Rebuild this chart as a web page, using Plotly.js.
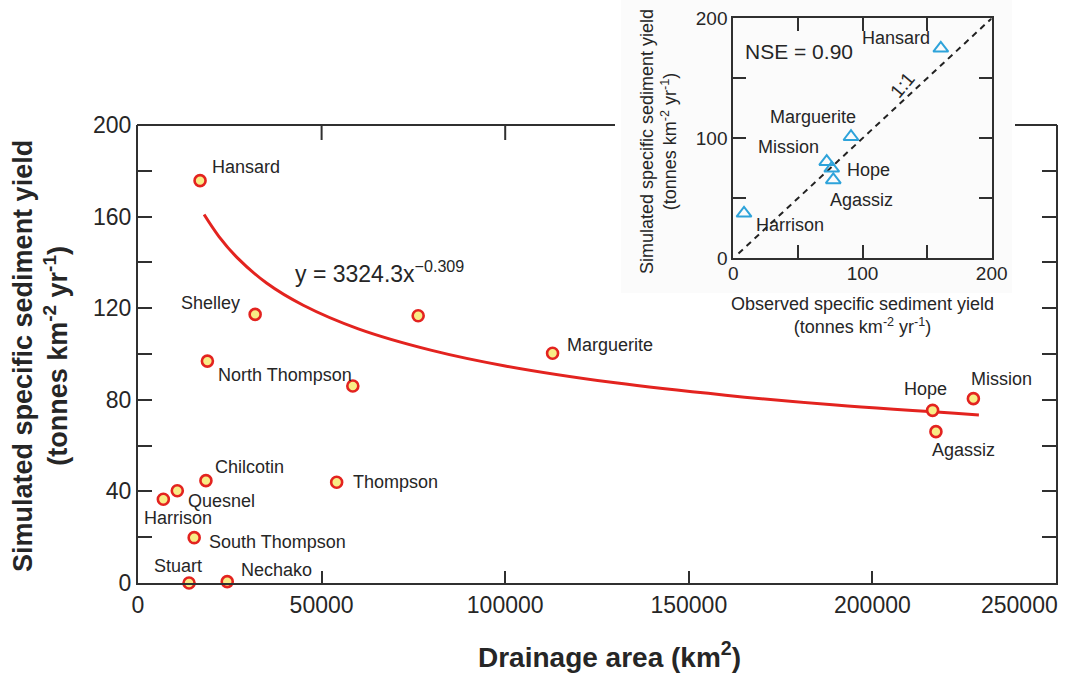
<!DOCTYPE html>
<html>
<head>
<meta charset="utf-8">
<script src="https://cdn.plot.ly/plotly-3.0.1.min.js"></script>
<style>
  html, body { margin: 0; padding: 0; background: #ffffff; }
  #chart { width: 1076px; height: 676px; }
</style>
</head>
<body>
<div id="chart"></div>
<script>
// ---------- Data ----------
// Main panel: drainage area (km2) vs simulated specific sediment yield (t km-2 yr-1)
const stations = ["Hansard", "Shelley", "", "North Thompson", "", "Marguerite", "Hope", "Mission",
                  "Agassiz", "Chilcotin", "Quesnel", "Harrison", "South Thompson", "Stuart", "Nechako", "Thompson"];
const drainageArea = [16900, 31900, 76300, 18900, 58500, 112900, 216400, 227500,
                      217300, 18500, 10700, 6900, 15300, 13900, 24300, 54100];
const simulatedYield = [175.7, 117.3, 116.7, 96.9, 86.0, 100.3, 75.4, 80.5,
                        66.1, 44.7, 40.3, 36.6, 19.8, 0.0, 0.6, 44.0];

// Power-law fit curve y = 3324.3 x^-0.309
const fitArea  = [18000, 22000, 27000, 35000, 45000, 60000, 80000, 100000, 130000, 160000, 190000, 229000];
const fitYield = [160.9, 151.4, 142.1, 131.0, 121.3, 111.0, 101.6, 94.8, 87.4, 82.0, 77.7, 73.4];
const fitEquation = "y = 3324.3x<sup>\u22120.309</sup>";

// Inset: observed vs simulated specific sediment yield
const insetStations = ["Hansard", "Marguerite", "Mission", "Hope", "Agassiz", "Harrison"];
const observedYield = [160.6, 91.1, 72.3, 76.2, 77.4, 8.3];
const insetSimulated = [175.0, 101.3, 80.5, 75.0, 65.3, 37.5];
const oneToOne = [4, 200];
const nseText = "NSE = 0.90";

// Tick settings
const mainXTicks = [0, 50000, 100000, 150000, 200000];
const mainXLastTick = 250000;
const mainYTicks = [0, 40, 80, 120, 160, 200];
const insetTicks = [0, 100, 200];

// ---------- Styling ----------
const REG = "Liberation Sans, Arial, Helvetica, sans-serif";
const AXIS = "#303030";
const TEXT = "#262626";
const W = 1076, H = 676;
const px = v => v / W;          // pixel -> paper x
const py = v => 1 - v / H;      // pixel -> paper y

// label placement (pixel offsets from the marker)
const mainLabelPos = {
  "Hansard":        {xanchor: "left",   dx: 10,  dy: 14},
  "Shelley":        {xanchor: "right",  dx: -13, dy: 11},
  "North Thompson": {xanchor: "left",   dx: 9,   dy: -14},
  "Marguerite":     {xanchor: "left",   dx: 12,  dy: 8},
  "Hope":           {xanchor: "center", dx: -7,  dy: 21},
  "Mission":        {xanchor: "center", dx: 28,  dy: 20},
  "Agassiz":        {xanchor: "center", dx: 28,  dy: -18},
  "Chilcotin":      {xanchor: "left",   dx: 7,   dy: 14},
  "Quesnel":        {xanchor: "left",   dx: 9,   dy: -10},
  "Harrison":       {xanchor: "center", dx: 15,  dy: -19},
  "South Thompson": {xanchor: "left",   dx: 13,  dy: -4},
  "Stuart":         {xanchor: "center", dx: -11, dy: 17},
  "Nechako":        {xanchor: "left",   dx: 12,  dy: 12},
  "Thompson":       {xanchor: "left",   dx: 14,  dy: 0}
};
const insetLabelPos = {
  "Hansard":    {xanchor: "right",  dx: -9,  dy: 10},
  "Marguerite": {xanchor: "center", dx: -38, dy: 20},
  "Mission":    {xanchor: "center", dx: -38, dy: 15},
  "Hope":       {xanchor: "left",   dx: 13,  dy: -2},
  "Agassiz":    {xanchor: "center", dx: 28,  dy: -20},
  "Harrison":   {xanchor: "left",   dx: 10,  dy: -12}
};

// ---------- Traces ----------
const traces = [
  {
    x: fitArea, y: fitYield, type: "scatter", mode: "lines",
    line: {color: "#e3231f", width: 3, shape: "spline"},
    hoverinfo: "skip", xaxis: "x", yaxis: "y"
  },
  {
    x: drainageArea, y: simulatedYield, text: stations, type: "scatter", mode: "markers",
    marker: {size: 11, color: "#f8ec86", line: {color: "#e3231f", width: 2.6}},
    cliponaxis: false, xaxis: "x", yaxis: "y"
  },
  {
    x: oneToOne, y: oneToOne, type: "scatter", mode: "lines",
    line: {color: "#222222", width: 2, dash: "6px,5px"},
    xaxis: "x2", yaxis: "y2", hoverinfo: "skip"
  },
  {
    x: observedYield, y: insetSimulated, text: insetStations, type: "scatter", mode: "markers",
    marker: {symbol: "triangle-up-open", size: 13, color: "#2ea3da", line: {width: 2, color: "#2ea3da"}},
    cliponaxis: false, xaxis: "x2", yaxis: "y2"
  }
];

// ---------- Annotations ----------
const annotations = [];
stations.forEach((name, i) => {
  if (!name) return;
  const p = mainLabelPos[name];
  annotations.push({
    x: drainageArea[i], y: simulatedYield[i], xref: "x", yref: "y",
    text: name, showarrow: false, xanchor: p.xanchor, yanchor: "middle",
    xshift: p.dx, yshift: p.dy,
    font: {family: REG, size: 18, color: TEXT}
  });
});
insetStations.forEach((name, i) => {
  const p = insetLabelPos[name];
  annotations.push({
    x: observedYield[i], y: insetSimulated[i], xref: "x2", yref: "y2",
    text: name, showarrow: false, xanchor: p.xanchor, yanchor: "middle",
    xshift: p.dx, yshift: p.dy,
    font: {family: REG, size: 18, color: TEXT}
  });
});
annotations.push(
  { // last x tick label (kept inside the figure, right-aligned as in the reference)
    x: mainXLastTick, y: 0, xref: "x", yref: "y", xanchor: "right", yanchor: "middle",
    xshift: 4, yshift: -22,
    text: String(mainXLastTick), showarrow: false, font: {family: REG, size: 23, color: TEXT}
  },
  { // fit equation
    x: px(293), y: py(272), xref: "paper", yref: "paper", xanchor: "left", yanchor: "middle",
    text: fitEquation, showarrow: false, font: {family: REG, size: 23, color: TEXT}
  },
  { // NSE
    x: 7.7, y: 172.2, xref: "x2", yref: "y2", xanchor: "left", yanchor: "middle",
    text: nseText, showarrow: false, font: {family: REG, size: 21, color: TEXT}
  },
  { // 1:1 label
    x: 130.4, y: 144.4, xref: "x2", yref: "y2", xanchor: "center", yanchor: "middle",
    text: "1:1", textangle: -50, showarrow: false, font: {family: REG, size: 19, color: TEXT}
  },
  { // main y title
    x: px(40), y: py(356), xref: "paper", yref: "paper", xanchor: "center", yanchor: "middle",
    text: "Simulated specific sediment yield<br>(tonnes km<sup>-2</sup> yr<sup>-1</sup>)",
    textangle: -90, showarrow: false,
    font: {family: REG, size: 27, color: TEXT, weight: 700}
  },
  { // main x title
    x: px(609), y: py(655), xref: "paper", yref: "paper", xanchor: "center", yanchor: "middle",
    text: "Drainage area (km<sup>2</sup>)", showarrow: false,
    font: {family: REG, size: 28, color: TEXT, weight: 700}
  },
  { // inset y title
    x: px(659), y: py(142), xref: "paper", yref: "paper", xanchor: "center", yanchor: "middle",
    text: "Simulated specific sediment yield<br>(tonnes km<sup>-2</sup> yr<sup>-1</sup>)",
    textangle: -90, showarrow: false, font: {family: REG, size: 18, color: TEXT}
  },
  { // inset x title
    x: px(862), y: py(316), xref: "paper", yref: "paper", xanchor: "center", yanchor: "middle",
    text: "Observed specific sediment yield<br>(tonnes km<sup>-2</sup> yr<sup>-1</sup>)",
    showarrow: false, font: {family: REG, size: 18, color: TEXT}
  }
);

// ---------- Shapes (inset backdrop, interrupted top frame of main panel) ----------
const frameTop = py(125);
const shapes = [
  {type: "rect", xref: "paper", yref: "paper", x0: px(621), x1: px(1012), y0: py(293), y1: 1,
   fillcolor: "#fbfbfb", line: {width: 0}, layer: "below"},
  {type: "line", xref: "paper", yref: "paper", x0: px(137), x1: px(615), y0: frameTop, y1: frameTop,
   line: {color: AXIS, width: 2}},
  {type: "line", xref: "paper", yref: "paper", x0: px(1015), x1: px(1057), y0: frameTop, y1: frameTop,
   line: {color: AXIS, width: 2}}
];
[50000, 100000].forEach(v => shapes.push({
  type: "line", xref: "x", yref: "paper", x0: v, x1: v, y0: frameTop, y1: frameTop - 15 / H,
  line: {color: AXIS, width: 2}
}));

// ---------- Layout ----------
const layout = {
  width: W, height: H,
  margin: {l: 0, r: 0, t: 0, b: 0},
  paper_bgcolor: "#ffffff",
  plot_bgcolor: "rgba(0,0,0,0)",
  showlegend: false,
  xaxis: {
    domain: [px(138), px(1056)], anchor: "y", range: [0, 250000],
    tickvals: mainXTicks, tickformat: "d",
    ticks: "inside", ticklen: 12, tickwidth: 2, tickcolor: AXIS,
    showline: true, linecolor: AXIS, linewidth: 2, mirror: false,
    showgrid: false, zeroline: false,
    tickfont: {family: REG, size: 23, color: TEXT}
  },
  yaxis: {
    domain: [py(583), py(125)], anchor: "x", range: [0, 200],
    tickvals: mainYTicks,
    ticks: "inside", ticklen: 14, tickwidth: 2, tickcolor: AXIS,
    minor: {dtick: 20, ticks: "inside", ticklen: 14, tickwidth: 2, tickcolor: AXIS, showgrid: false},
    showline: true, linecolor: AXIS, linewidth: 2, mirror: "ticks",
    showgrid: false, zeroline: false,
    tickfont: {family: REG, size: 23, color: TEXT}
  },
  xaxis2: {
    domain: [px(733.3), px(991.7)], anchor: "y2", range: [0, 200],
    tickvals: insetTicks,
    ticks: "inside", ticklen: 13, tickwidth: 2, tickcolor: AXIS,
    minor: {dtick: 50, ticks: "inside", ticklen: 13, tickwidth: 2, tickcolor: AXIS, showgrid: false},
    showline: true, linecolor: AXIS, linewidth: 2, mirror: "ticks",
    showgrid: false, zeroline: false, ticklabelstandoff: -3,
    tickfont: {family: REG, size: 19, color: TEXT}
  },
  yaxis2: {
    domain: [py(258.3), py(18.3)], anchor: "x2", range: [0, 200],
    tickvals: insetTicks,
    ticks: "inside", ticklen: 13, tickwidth: 2, tickcolor: AXIS,
    minor: {dtick: 50, ticks: "inside", ticklen: 13, tickwidth: 2, tickcolor: AXIS, showgrid: false},
    showline: true, linecolor: AXIS, linewidth: 2, mirror: "ticks",
    showgrid: false, zeroline: false,
    tickfont: {family: REG, size: 19, color: TEXT}
  },
  annotations: annotations,
  shapes: shapes
};

Plotly.newPlot("chart", traces, layout, {displayModeBar: false, staticPlot: true});
</script>
</body>
</html>
